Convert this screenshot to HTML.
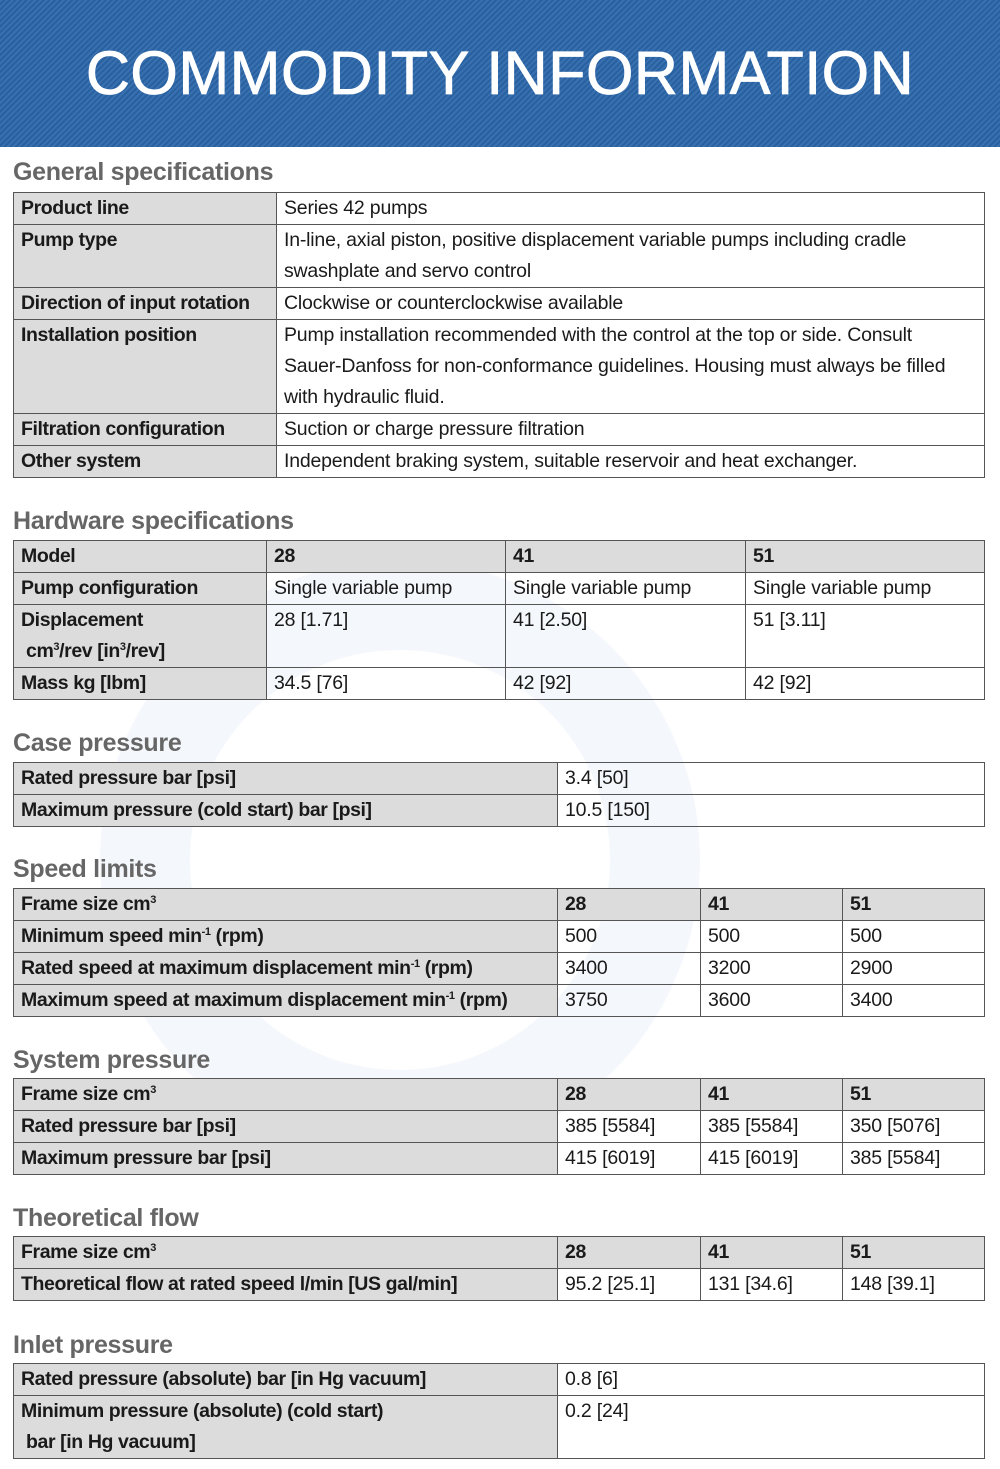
<!DOCTYPE html>
<html><head><meta charset="utf-8"><style>
*{margin:0;padding:0;box-sizing:border-box}
body{width:1000px;height:1469px;background:#fff;position:relative;overflow:hidden;font-family:"Liberation Sans",sans-serif;color:#1a1a1a}
.hdr{position:absolute;left:0;top:0;width:1000px;height:147px;background:#2a66aa;background-image:repeating-linear-gradient(135deg,rgba(255,255,255,0.07) 0 2px,rgba(0,0,0,0.06) 2px 4px)}
.hdr div{position:absolute;left:0;width:1000px;top:38px;text-align:center;color:#fff;font-size:61px;line-height:70px;letter-spacing:0.5px;-webkit-text-stroke:0.8px #fff}
h2{position:absolute;left:13px;font-size:25px;font-weight:bold;color:#666;line-height:30px;letter-spacing:-0.3px}
table{position:absolute;left:13px;width:972px;border-collapse:collapse;table-layout:fixed;font-size:19.5px;letter-spacing:-0.2px}
td{border:1.6px solid #555;vertical-align:top;padding:0 0 0 7px;line-height:31px;height:31.5px;white-space:nowrap;overflow:hidden}
td.g{background:#dcdcdc;font-weight:bold;letter-spacing:-0.4px}
sup{font-size:11px;vertical-align:7px;line-height:0}
.wm{position:absolute;left:100px;top:560px;width:600px;height:600px;border-radius:50%;border:90px solid rgba(210,225,240,0.25)}
</style></head><body>
<div class="hdr"><div>COMMODITY INFORMATION</div></div>
<div class="wm"></div>

<h2 style="top:157px">General specifications</h2>
<table style="top:192px"><colgroup><col style="width:263px"><col></colgroup>
<tr><td class="g">Product line</td><td>Series 42 pumps</td></tr>
<tr><td class="g">Pump type</td><td>In-line, axial piston, positive displacement variable pumps including cradle<br>swashplate and servo control</td></tr>
<tr><td class="g">Direction of input rotation</td><td>Clockwise or counterclockwise available</td></tr>
<tr><td class="g">Installation position</td><td>Pump installation recommended with the control at the top or side. Consult<br>Sauer-Danfoss for non-conformance guidelines. Housing must always be filled<br>with hydraulic fluid.</td></tr>
<tr><td class="g">Filtration configuration</td><td>Suction or charge pressure filtration</td></tr>
<tr><td class="g">Other system</td><td>Independent braking system, suitable reservoir and heat exchanger.</td></tr>
</table>

<h2 style="top:506px">Hardware specifications</h2>
<table style="top:540px"><colgroup><col style="width:253px"><col style="width:239px"><col style="width:240px"><col></colgroup>
<tr><td class="g">Model</td><td class="g">28</td><td class="g">41</td><td class="g">51</td></tr>
<tr><td class="g">Pump configuration</td><td>Single variable pump</td><td>Single variable pump</td><td>Single variable pump</td></tr>
<tr><td class="g">Displacement<br>&nbsp;cm<sup>3</sup>/rev [in<sup>3</sup>/rev]</td><td>28 [1.71]</td><td>41 [2.50]</td><td>51 [3.11]</td></tr>
<tr><td class="g">Mass kg [lbm]</td><td>34.5 [76]</td><td>42 [92]</td><td>42 [92]</td></tr>
</table>

<h2 style="top:728px">Case pressure</h2>
<table style="top:762px"><colgroup><col style="width:544px"><col></colgroup>
<tr><td class="g">Rated pressure bar [psi]</td><td>3.4 [50]</td></tr>
<tr><td class="g">Maximum pressure (cold start) bar [psi]</td><td>10.5 [150]</td></tr>
</table>

<h2 style="top:854px">Speed limits</h2>
<table style="top:888px"><colgroup><col style="width:544px"><col style="width:143px"><col style="width:142px"><col></colgroup>
<tr><td class="g">Frame size cm<sup>3</sup></td><td class="g">28</td><td class="g">41</td><td class="g">51</td></tr>
<tr><td class="g">Minimum speed min<sup>-1</sup> (rpm)</td><td>500</td><td>500</td><td>500</td></tr>
<tr><td class="g">Rated speed at maximum displacement min<sup>-1</sup> (rpm)</td><td>3400</td><td>3200</td><td>2900</td></tr>
<tr><td class="g">Maximum speed at maximum displacement min<sup>-1</sup> (rpm)</td><td>3750</td><td>3600</td><td>3400</td></tr>
</table>

<h2 style="top:1045px">System pressure</h2>
<table style="top:1078px"><colgroup><col style="width:544px"><col style="width:143px"><col style="width:142px"><col></colgroup>
<tr><td class="g">Frame size cm<sup>3</sup></td><td class="g">28</td><td class="g">41</td><td class="g">51</td></tr>
<tr><td class="g">Rated pressure bar [psi]</td><td>385 [5584]</td><td>385 [5584]</td><td>350 [5076]</td></tr>
<tr><td class="g">Maximum pressure bar [psi]</td><td>415 [6019]</td><td>415 [6019]</td><td>385 [5584]</td></tr>
</table>

<h2 style="top:1203px">Theoretical flow</h2>
<table style="top:1236px"><colgroup><col style="width:544px"><col style="width:143px"><col style="width:142px"><col></colgroup>
<tr><td class="g">Frame size cm<sup>3</sup></td><td class="g">28</td><td class="g">41</td><td class="g">51</td></tr>
<tr><td class="g">Theoretical flow at rated speed l/min [US gal/min]</td><td>95.2 [25.1]</td><td>131 [34.6]</td><td>148 [39.1]</td></tr>
</table>

<h2 style="top:1330px">Inlet pressure</h2>
<table style="top:1363px"><colgroup><col style="width:544px"><col></colgroup>
<tr><td class="g">Rated pressure (absolute) bar [in Hg vacuum]</td><td>0.8 [6]</td></tr>
<tr><td class="g">Minimum pressure (absolute) (cold start)<br>&nbsp;bar [in Hg vacuum]</td><td>0.2 [24]</td></tr>
</table>
</body></html>
